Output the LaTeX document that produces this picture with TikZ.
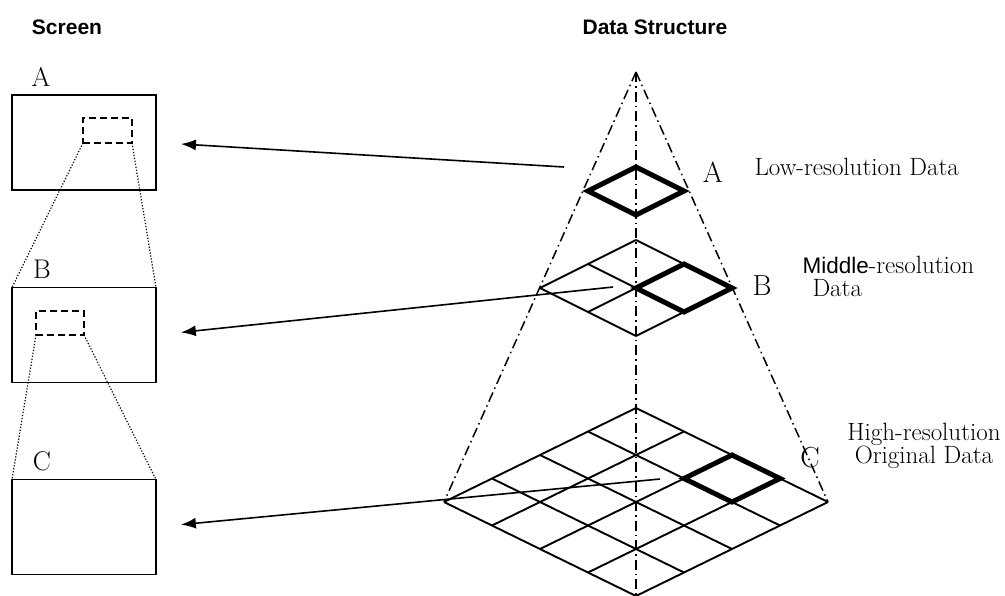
\documentclass[tikz,border=0pt]{standalone}
\usepackage{fontspec}
\newfontfamily\gothicfont{Liberation Sans}
\usepackage{tikz}
\usetikzlibrary{positioning, arrows.meta, calc}
\tikzset{
  screen/.style={rectangle, draw=black, line width=1.6pt, minimum width=144pt, minimum height=95pt, inner sep=0pt, outer sep=0pt},
  zoombox/.style={rectangle, draw=black, line width=1.8pt, dash pattern=on 7pt off 4pt, inner sep=0pt, outer sep=0pt},
  zoomline/.style={line width=1.2pt, dash pattern=on 1.2pt off 1.8pt},
  axisline/.style={line width=1.5pt, dash pattern=on 10pt off 4pt on 1.5pt off 4pt},
  gridline/.style={line width=1.9pt},
  hilite/.style={line width=5pt, line join=miter},
  fetch/.style={line width=1.6pt, -{Latex[length=15pt,width=11pt]}, shorten >=25pt},
  title/.style={font=\gothicfont\bfseries\fontsize{21}{25}\selectfont},
  letter/.style={font=\fontsize{27}{30}\selectfont},
  bigletter/.style={font=\fontsize{29}{32}\selectfont},
  caption/.style={font=\fontsize{25}{23}\selectfont}
}
% #1 name, #2 centre y, #3 cells per side, #4 cell height, #5 u index of the bold cell
\newcommand{\datalayer}[5]{
    \coordinate (#1top) at (636,#2-#3*#4);
    \foreach \i in {0,...,#3} {
        \draw[gridline] ($(#1top)+\i*(48,#4)$) -- ++(-#3*48,#3*#4);
        \draw[gridline] ($(#1top)+\i*(-48,#4)$) -- ++(#3*48,#3*#4);
    }
    \draw[hilite] ($(#1top)+#5*(48,#4)$) -- ++(48,#4) -- ++(-48,#4) -- ++(-48,-#4) -- cycle;
}
\begin{document}
\begin{tikzpicture}[x=1pt, y=-1pt]
    \useasboundingbox (0,0) rectangle (1005,595);

    % ==========================================
    % 1. Screen (left side)
    % ==========================================
    \node[title] (tScreen) at (67,27) {Screen};

    \node[screen] (scrA) at (84,142.5) {};
    \node[screen] (scrB) at (84,335) {};
    \node[screen] (scrC) at (84,527) {};

    \node[letter] (lScrA) at (41,77) {A};
    \node[letter] (lScrB) at (42,269) {B};
    \node[letter] (lScrC) at (42,461) {C};

    % zoomed parts
    \node[zoombox, minimum width=49pt, minimum height=25pt] (zoomA) at (107.5,130.5) {};
    \node[zoombox, minimum width=48pt, minimum height=24pt] (zoomB) at (60,323) {};

    \draw[zoomline] (zoomA.south west) -- (scrB.north west);
    \draw[zoomline] (zoomA.south east) -- (scrB.north east);
    \draw[zoomline] (zoomB.south west) -- (scrC.north west);
    \draw[zoomline] (zoomB.south east) -- (scrC.north east);

    % ==========================================
    % 2. Data Structure (right side)
    % ==========================================
    \node[title] (tData) at (655,27) {Data Structure};

    % pyramid axes
    \coordinate (apex) at (636,72);
    \coordinate (baseL) at (444,502);
    \coordinate (baseR) at (828,502);
    \coordinate (baseC) at (636,600);
    \draw[axisline] (apex) -- (baseL);
    \draw[axisline] (apex) -- (baseR);
    \draw[axisline] (apex) -- (baseC);

    % the three layers
    \datalayer{A}{191}{1}{24}{0}
    \datalayer{B}{288}{2}{24}{1}
    \datalayer{C}{502}{4}{23.5}{2}

    \node[bigletter] (lDatA) at (713,172) {A};
    \node[bigletter] (lDatB) at (762,286) {B};
    \node[bigletter] (lDatC) at (810,458) {C};

    \node[caption, anchor=west] (cLow) at (751,167) {Low-resolution Data};
    \node[caption, anchor=west] (cMid) at (799,265) {{\gothicfont\fontsize{22.5}{23}\selectfont Middle}-resolution};
    \node[caption, anchor=west] (cMidData) at (809,288) {Data};
    \node[caption, align=center] (cHigh) at (924,446) {High-resolution\\Original Data};

    % ==========================================
    % 3. Fetch arrows
    % ==========================================
    \coordinate (srcA) at (564,167);
    \coordinate (srcB) at (613,287);
    \coordinate (srcC) at (660,479);
    \draw[fetch] (srcA) -- (scrA.east);
    \draw[fetch] (srcB) -- (scrB.east);
    \draw[fetch] (srcC) -- (scrC.east);

\end{tikzpicture}
\end{document}
